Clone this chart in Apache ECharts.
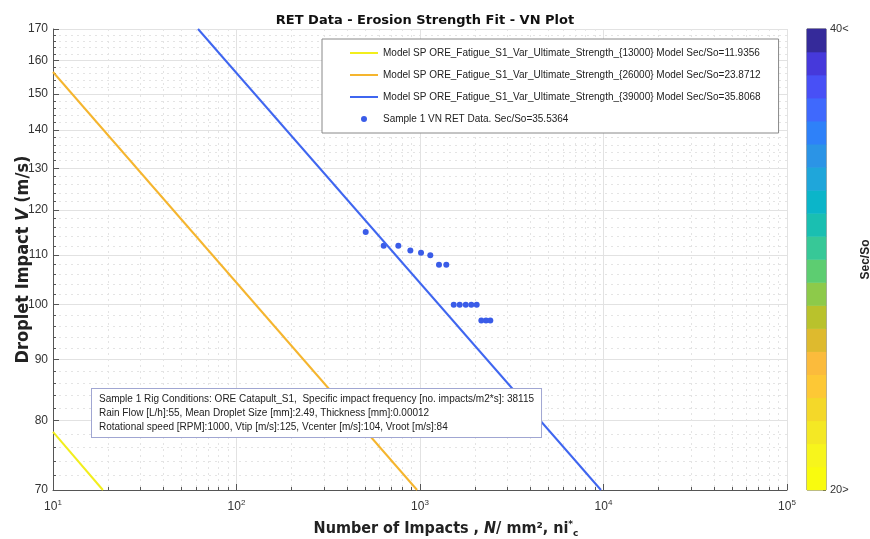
<!DOCTYPE html>
<html>
<head>
<meta charset="utf-8">
<script src="https://cdn.jsdelivr.net/npm/echarts@6/dist/echarts.min.js"></script>
<style>
    html, body { margin: 0; padding: 0; background: #fff; }
    #main { width: 870px; height: 539px; }
</style>
</head>
<body>
<div id="main"></div>
<script>
// y axis tick values (m/s)
var yMajor = [70, 80, 90, 100, 110, 120, 130, 140, 150, 160, 170];
var yMinor = [72, 74, 76, 78, 82, 84, 86, 88, 92, 94, 96, 98, 102, 104, 106, 108,
    112, 114, 116, 118, 122, 124, 126, 128, 132, 134, 136, 138, 142, 144, 146, 148,
    152, 154, 156, 158, 162, 164, 166, 168];
// x axis minor ticks (impacts)
var xMinor = [20, 30, 40, 50, 60, 70, 80, 90, 200, 300, 400, 500, 600, 700, 800, 900,
    2000, 3000, 4000, 5000, 6000, 7000, 8000, 9000, 20000, 30000, 40000, 50000, 60000, 70000, 80000, 90000];

// model lines, end points [N, V]
var line13000 = [[10, 78.3], [18.7, 70]];
var line26000 = [[10, 156.5], [964, 70]];
var line39000 = [[61.7, 170], [9690, 70]];

// sample 1 RET data
var sampleN = [506, 634, 762, 886, 1013, 1138, 1269, 1391, 1527, 1646, 1775, 1904, 2037, 2159, 2289, 2416];
var sampleV = [115, 112, 112, 111, 110.5, 110, 108, 108, 100, 100, 100, 100, 100, 97, 97, 97];

// colour bar (bottom to top, Sec/So 20 -> 40)
var barColors = ['#f9fb0e', '#f7f51c', '#f4e824', '#f4d829', '#fdc835', '#fbbb3c', '#deba2e', '#b9c22c',
    '#8dca4a', '#5dcd71', '#37c897', '#1abfb1', '#0bb5c9', '#1fa6da', '#2b94e6', '#2e81f9',
    '#3f69fd', '#4850f6', '#4639db', '#352a9a'];

var names = [
    'Model SP ORE_Fatigue_S1_Var_Ultimate_Strength_{13000} Model Sec/So=11.9356',
    'Model SP ORE_Fatigue_S1_Var_Ultimate_Strength_{26000} Model Sec/So=23.8712',
    'Model SP ORE_Fatigue_S1_Var_Ultimate_Strength_{39000} Model Sec/So=35.8068',
    'Sample 1 VN RET Data. Sec/So=35.5364'
];

var rigText = [
    'Sample 1 Rig Conditions: ORE Catapult_S1,  Specific impact frequency [no. impacts/m2*s]: 38115',
    'Rain Flow [L/h]:55, Mean Droplet Size [mm]:2.49, Thickness [mm]:0.00012',
    'Rotational speed [RPM]:1000, Vtip [m/s]:125, Vcenter [m/s]:104, Vroot [m/s]:84'
];

var sample = [];
for (var i = 0; i < sampleN.length; i++) {
    sample.push([sampleN[i], sampleV[i]]);
}
var barCells = [];
var barCats = [];
for (var k = 0; k < barColors.length; k++) {
    barCats.push(k);
    barCells.push({ value: [0, k, k], itemStyle: { color: barColors[k] } });
}

var font = '"Liberation Sans", Arial, sans-serif';
var lineIcon = 'path://M0,0 L28,0 L28,2 L0,2 Z';
var myChart = echarts.init(document.getElementById('main'));
var option = {
    backgroundColor: '#fff',
    animation: false,
    title: {
        text: 'RET Data - Erosion Strength Fit - VN Plot',
        left: 420,
        textAlign: 'center',
        top: 9,
        textStyle: { fontFamily: 'DejaVu Sans', fontSize: 13, fontWeight: 'bold', color: '#111' }
    },
    legend: {
        orient: 'vertical',
        left: 322,
        top: 39,
        padding: [9, 18, 9, 28],
        itemGap: 12,
        itemWidth: 28,
        itemHeight: 6,
        backgroundColor: '#fff',
        borderColor: '#888',
        borderWidth: 1,
        textStyle: { fontFamily: font, fontSize: 10, color: '#222' },
        data: [
            { name: names[0], icon: lineIcon },
            { name: names[1], icon: lineIcon },
            { name: names[2], icon: lineIcon },
            { name: names[3], icon: 'circle' }
        ]
    },
    grid: [
        { left: 53, top: 29, width: 734, height: 461, outerBoundsMode: 'none' },
        { left: 807, top: 29, width: 19, height: 461, show: true, borderColor: '#555', borderWidth: 1, outerBoundsMode: 'none' }
    ],
    xAxis: [
        {
            type: 'log', logBase: 10, min: 10, max: 100000, gridIndex: 0,
            name: 'Number of Impacts , {i|N}/ mm², ni{sup|*}{sub|c}',
            nameLocation: 'middle', nameGap: 30, nameMoveOverlap: false,
            nameTextStyle: {
                fontFamily: 'DejaVu Sans Condensed', fontSize: 16, fontWeight: 'bold', color: '#222',
                padding: [0, 0, 0, 52],
                rich: {
                    i: { fontFamily: 'DejaVu Sans Condensed', fontSize: 16, fontWeight: 'bold', fontStyle: 'italic', color: '#222' },
                    sup: { fontFamily: 'DejaVu Sans', fontSize: 9, fontWeight: 'bold', color: '#222', verticalAlign: 'top', padding: [0, 0, 9, 0] },
                    sub: { fontFamily: 'DejaVu Sans', fontSize: 9, fontWeight: 'bold', color: '#222', verticalAlign: 'bottom', padding: [9, 0, 0, 0] }
                }
            },
            axisLine: { show: true, lineStyle: { color: '#555' } },
            axisTick: { inside: true, length: 6, lineStyle: { color: '#555' } },
            axisLabel: {
                margin: 9, color: '#333', fontFamily: font, fontSize: 12,
                formatter: function (v) {
                    return '10{sup|' + Math.round(Math.log10(v)) + '}';
                },
                rich: { sup: { fontSize: 8, fontFamily: font, color: '#333', verticalAlign: 'top', padding: [0, 0, 7, 0] } }
            },
            splitLine: { show: true, lineStyle: { color: '#e2e2e2', width: 1 } }
        },
        {
            type: 'log', logBase: 10, min: 10, max: 100000, gridIndex: 0, position: 'bottom',
            axisLine: { show: false },
            axisLabel: { show: false },
            axisTick: { inside: true, length: 3, customValues: xMinor, lineStyle: { color: '#555' } },
            splitLine: { show: true, lineStyle: { color: '#e4e4e4', type: [2, 4] } }
        },
        {
            type: 'category', gridIndex: 1, data: ['c'], show: false
        }
    ],
    yAxis: [
        {
            type: 'log', logBase: 10, min: 70, max: 170, gridIndex: 0,
            name: 'Droplet Impact {i|V} (m/s)',
            nameLocation: 'middle', nameGap: 21, nameRotate: 90, nameMoveOverlap: false,
            nameTextStyle: {
                fontFamily: 'DejaVu Sans Condensed', fontSize: 18, fontWeight: 'bold', color: '#222',
                rich: { i: { fontFamily: 'DejaVu Sans Condensed', fontSize: 18, fontWeight: 'bold', fontStyle: 'italic', color: '#222' } }
            },
            axisLine: { show: true, lineStyle: { color: '#555' } },
            axisTick: { inside: true, length: 6, customValues: yMajor, lineStyle: { color: '#555' } },
            axisLabel: { margin: 5, color: '#333', fontFamily: font, fontSize: 12, customValues: yMajor },
            splitLine: { show: true, lineStyle: { color: '#e2e2e2', width: 1 } }
        },
        {
            type: 'log', logBase: 10, min: 70, max: 170, gridIndex: 0, position: 'left',
            axisLine: { show: false },
            axisLabel: { show: false },
            axisTick: { inside: true, length: 3, customValues: yMinor, lineStyle: { color: '#555' } },
            splitLine: { show: true, lineStyle: { color: '#e4e4e4', type: [2, 4] } }
        },
        {
            type: 'category', gridIndex: 1, data: barCats, show: false
        },
        {
            type: 'value', gridIndex: 1, min: 20, max: 40, position: 'right',
            name: 'Sec/So', nameLocation: 'middle', nameGap: 34, nameRotate: 90, nameMoveOverlap: false,
            nameTextStyle: { fontFamily: font, fontSize: 12, fontWeight: 'bold', color: '#222' },
            axisLine: { show: false },
            axisTick: { show: true, inside: true, length: 3, customValues: [20, 40], lineStyle: { color: '#555' } },
            axisLabel: {
                margin: 4, color: '#333', fontFamily: font, fontSize: 11, customValues: [20, 40],
                formatter: function (v) { return v >= 40 ? '40<' : '20>'; }
            },
            splitLine: { show: false }
        }
    ],
    graphic: [
        {
            type: 'text',
            left: 91,
            top: 388,
            z: 100,
            style: {
                text: rigText.join('\n'),
                font: '10px ' + font,
                fill: '#222',
                align: 'center',
                lineHeight: 14,
                backgroundColor: '#fff',
                borderColor: '#a0a6d2',
                borderWidth: 1,
                padding: [3, 7, 3, 7]
            }
        }
    ],
    series: [
        {
            name: names[0], type: 'line', xAxisIndex: 0, yAxisIndex: 0, data: line13000,
            symbol: 'none', lineStyle: { color: '#f2ee1c', width: 2 }, itemStyle: { color: '#f2ee1c' }
        },
        {
            name: names[1], type: 'line', xAxisIndex: 0, yAxisIndex: 0, data: line26000,
            symbol: 'none', lineStyle: { color: '#f5b52e', width: 2 }, itemStyle: { color: '#f5b52e' }
        },
        {
            name: names[2], type: 'line', xAxisIndex: 0, yAxisIndex: 0, data: line39000,
            symbol: 'none', lineStyle: { color: '#3f66f0', width: 2 }, itemStyle: { color: '#3f66f0' }
        },
        {
            name: names[3], type: 'scatter', xAxisIndex: 0, yAxisIndex: 0, data: sample,
            symbolSize: 6, itemStyle: { color: '#3a5ce8', opacity: 1 }
        },
        {
            type: 'heatmap', xAxisIndex: 2, yAxisIndex: 2, data: barCells, silent: true
        }
    ]
};
myChart.setOption(option);
</script>
</body>
</html>
